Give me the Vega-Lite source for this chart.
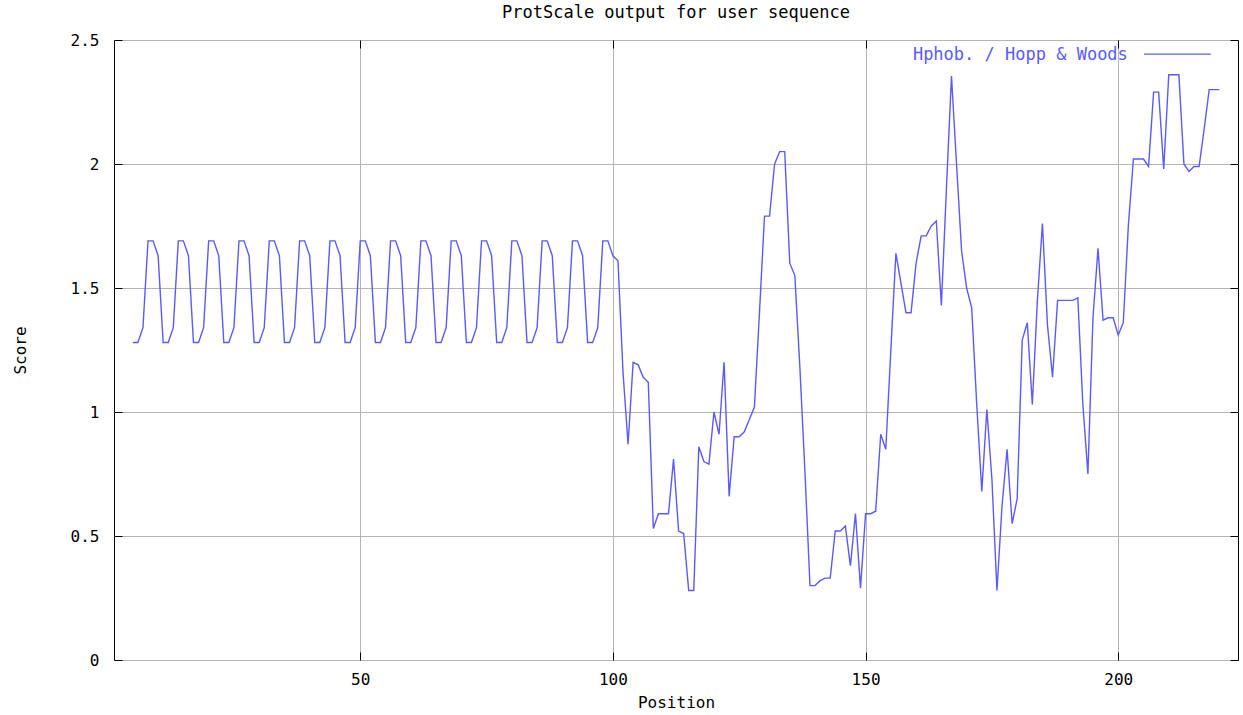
{
  "$schema": "https://vega.github.io/schema/vega-lite/v6.json",
  "width": 1124,
  "height": 620,
  "autosize": {"type": "none"},
  "padding": {"left": 114, "top": 40, "right": 5, "bottom": 55},
  "background": "white",
  "title": {
    "text": "ProtScale output for user sequence",
    "font": "DejaVu Sans Mono",
    "fontSize": 17,
    "fontWeight": "normal",
    "color": "#000000",
    "anchor": "middle",
    "frame": "group",
    "baseline": "alphabetic",
    "offset": -3
  },
  "config": {
    "view": {"stroke": "#000000", "strokeWidth": 1},
    "axis": {
      "domain": false,
      "gridColor": "#b4b4b4",
      "gridWidth": 1,
      "gridOpacity": 1,
      "tickColor": "#000000",
      "tickWidth": 1,
      "labelFont": "DejaVu Sans Mono",
      "labelFontSize": 16,
      "labelColor": "#000000",
      "titleFont": "DejaVu Sans Mono",
      "titleFontSize": 16,
      "titleFontWeight": "normal",
      "titleColor": "#000000"
    }
  },
  "data": {
    "values": [
      {"position": 5, "score": 1.28}, {"position": 6, "score": 1.28}, {"position": 7, "score": 1.34}, {"position": 8, "score": 1.69}, {"position": 9, "score": 1.69}, {"position": 10, "score": 1.63},
      {"position": 11, "score": 1.28}, {"position": 12, "score": 1.28}, {"position": 13, "score": 1.34}, {"position": 14, "score": 1.69}, {"position": 15, "score": 1.69}, {"position": 16, "score": 1.63},
      {"position": 17, "score": 1.28}, {"position": 18, "score": 1.28}, {"position": 19, "score": 1.34}, {"position": 20, "score": 1.69}, {"position": 21, "score": 1.69}, {"position": 22, "score": 1.63},
      {"position": 23, "score": 1.28}, {"position": 24, "score": 1.28}, {"position": 25, "score": 1.34}, {"position": 26, "score": 1.69}, {"position": 27, "score": 1.69}, {"position": 28, "score": 1.63},
      {"position": 29, "score": 1.28}, {"position": 30, "score": 1.28}, {"position": 31, "score": 1.34}, {"position": 32, "score": 1.69}, {"position": 33, "score": 1.69}, {"position": 34, "score": 1.63},
      {"position": 35, "score": 1.28}, {"position": 36, "score": 1.28}, {"position": 37, "score": 1.34}, {"position": 38, "score": 1.69}, {"position": 39, "score": 1.69}, {"position": 40, "score": 1.63},
      {"position": 41, "score": 1.28}, {"position": 42, "score": 1.28}, {"position": 43, "score": 1.34}, {"position": 44, "score": 1.69}, {"position": 45, "score": 1.69}, {"position": 46, "score": 1.63},
      {"position": 47, "score": 1.28}, {"position": 48, "score": 1.28}, {"position": 49, "score": 1.34}, {"position": 50, "score": 1.69}, {"position": 51, "score": 1.69}, {"position": 52, "score": 1.63},
      {"position": 53, "score": 1.28}, {"position": 54, "score": 1.28}, {"position": 55, "score": 1.34}, {"position": 56, "score": 1.69}, {"position": 57, "score": 1.69}, {"position": 58, "score": 1.63},
      {"position": 59, "score": 1.28}, {"position": 60, "score": 1.28}, {"position": 61, "score": 1.34}, {"position": 62, "score": 1.69}, {"position": 63, "score": 1.69}, {"position": 64, "score": 1.63},
      {"position": 65, "score": 1.28}, {"position": 66, "score": 1.28}, {"position": 67, "score": 1.34}, {"position": 68, "score": 1.69}, {"position": 69, "score": 1.69}, {"position": 70, "score": 1.63},
      {"position": 71, "score": 1.28}, {"position": 72, "score": 1.28}, {"position": 73, "score": 1.34}, {"position": 74, "score": 1.69}, {"position": 75, "score": 1.69}, {"position": 76, "score": 1.63},
      {"position": 77, "score": 1.28}, {"position": 78, "score": 1.28}, {"position": 79, "score": 1.34}, {"position": 80, "score": 1.69}, {"position": 81, "score": 1.69}, {"position": 82, "score": 1.63},
      {"position": 83, "score": 1.28}, {"position": 84, "score": 1.28}, {"position": 85, "score": 1.34}, {"position": 86, "score": 1.69}, {"position": 87, "score": 1.69}, {"position": 88, "score": 1.63},
      {"position": 89, "score": 1.28}, {"position": 90, "score": 1.28}, {"position": 91, "score": 1.34}, {"position": 92, "score": 1.69}, {"position": 93, "score": 1.69}, {"position": 94, "score": 1.63},
      {"position": 95, "score": 1.28}, {"position": 96, "score": 1.28}, {"position": 97, "score": 1.34}, {"position": 98, "score": 1.69}, {"position": 99, "score": 1.69}, {"position": 100, "score": 1.63},
      {"position": 101, "score": 1.61}, {"position": 102, "score": 1.16}, {"position": 103, "score": 0.87}, {"position": 104, "score": 1.20}, {"position": 105, "score": 1.19},
      {"position": 106, "score": 1.14}, {"position": 107, "score": 1.12}, {"position": 108, "score": 0.53}, {"position": 109, "score": 0.59}, {"position": 110, "score": 0.59},
      {"position": 111, "score": 0.59}, {"position": 112, "score": 0.81}, {"position": 113, "score": 0.52}, {"position": 114, "score": 0.51}, {"position": 115, "score": 0.28},
      {"position": 116, "score": 0.28}, {"position": 117, "score": 0.86}, {"position": 118, "score": 0.80}, {"position": 119, "score": 0.79}, {"position": 120, "score": 1.00},
      {"position": 121, "score": 0.91}, {"position": 122, "score": 1.20}, {"position": 123, "score": 0.66}, {"position": 124, "score": 0.90}, {"position": 125, "score": 0.90},
      {"position": 126, "score": 0.92}, {"position": 127, "score": 0.97}, {"position": 128, "score": 1.02}, {"position": 129, "score": 1.40}, {"position": 130, "score": 1.79},
      {"position": 131, "score": 1.79}, {"position": 132, "score": 2.00}, {"position": 133, "score": 2.05}, {"position": 134, "score": 2.05}, {"position": 135, "score": 1.60},
      {"position": 136, "score": 1.55}, {"position": 137, "score": 1.18}, {"position": 138, "score": 0.76}, {"position": 139, "score": 0.30}, {"position": 140, "score": 0.30},
      {"position": 141, "score": 0.32}, {"position": 142, "score": 0.33}, {"position": 143, "score": 0.33}, {"position": 144, "score": 0.52}, {"position": 145, "score": 0.52},
      {"position": 146, "score": 0.54}, {"position": 147, "score": 0.38}, {"position": 148, "score": 0.59}, {"position": 149, "score": 0.29}, {"position": 150, "score": 0.59},
      {"position": 151, "score": 0.59}, {"position": 152, "score": 0.60}, {"position": 153, "score": 0.91}, {"position": 154, "score": 0.85}, {"position": 155, "score": 1.25},
      {"position": 156, "score": 1.64}, {"position": 157, "score": 1.52}, {"position": 158, "score": 1.40}, {"position": 159, "score": 1.40}, {"position": 160, "score": 1.60},
      {"position": 161, "score": 1.71}, {"position": 162, "score": 1.71}, {"position": 163, "score": 1.75}, {"position": 164, "score": 1.77}, {"position": 165, "score": 1.43},
      {"position": 166, "score": 1.90}, {"position": 167, "score": 2.355}, {"position": 168, "score": 2.00}, {"position": 169, "score": 1.65}, {"position": 170, "score": 1.50},
      {"position": 171, "score": 1.42}, {"position": 172, "score": 1.03}, {"position": 173, "score": 0.68}, {"position": 174, "score": 1.01}, {"position": 175, "score": 0.73},
      {"position": 176, "score": 0.28}, {"position": 177, "score": 0.62}, {"position": 178, "score": 0.85}, {"position": 179, "score": 0.55}, {"position": 180, "score": 0.65},
      {"position": 181, "score": 1.29}, {"position": 182, "score": 1.36}, {"position": 183, "score": 1.03}, {"position": 184, "score": 1.45}, {"position": 185, "score": 1.76},
      {"position": 186, "score": 1.35}, {"position": 187, "score": 1.14}, {"position": 188, "score": 1.45}, {"position": 189, "score": 1.45}, {"position": 190, "score": 1.45},
      {"position": 191, "score": 1.45}, {"position": 192, "score": 1.46}, {"position": 193, "score": 1.03}, {"position": 194, "score": 0.75}, {"position": 195, "score": 1.38},
      {"position": 196, "score": 1.66}, {"position": 197, "score": 1.37}, {"position": 198, "score": 1.38}, {"position": 199, "score": 1.38}, {"position": 200, "score": 1.31},
      {"position": 201, "score": 1.36}, {"position": 202, "score": 1.75}, {"position": 203, "score": 2.02}, {"position": 204, "score": 2.02}, {"position": 205, "score": 2.02},
      {"position": 206, "score": 1.99}, {"position": 207, "score": 2.29}, {"position": 208, "score": 2.29}, {"position": 209, "score": 1.98}, {"position": 210, "score": 2.36},
      {"position": 211, "score": 2.36}, {"position": 212, "score": 2.36}, {"position": 213, "score": 2.00}, {"position": 214, "score": 1.97}, {"position": 215, "score": 1.99},
      {"position": 216, "score": 1.99}, {"position": 217, "score": 2.14}, {"position": 218, "score": 2.30}, {"position": 219, "score": 2.30}, {"position": 220, "score": 2.30}
    ]
  },
  "resolve": {"axis": {"x": "independent", "y": "independent"}},
  "layer": [
    {
      "mark": {"type": "line", "color": "#5a5aff", "strokeWidth": 1.4, "interpolate": "linear"},
      "encoding": {
        "x": {
          "field": "position",
          "type": "quantitative",
          "scale": {"domain": [1.27, 223.7], "nice": false, "zero": false},
          "axis": {
            "orient": "bottom",
            "values": [50, 100, 150, 200],
            "grid": true,
            "tickSize": -8,
            "labelPadding": 19,
            "labelBaseline": "top",
            "title": "Position",
            "titlePadding": 7
          }
        },
        "y": {
          "field": "score",
          "type": "quantitative",
          "scale": {"domain": [0, 2.5], "nice": false, "zero": true},
          "axis": {
            "orient": "left",
            "values": [0, 0.5, 1, 1.5, 2, 2.5],
            "format": "~g",
            "grid": true,
            "tickSize": -8,
            "labelPadding": 23,
            "title": "Score",
            "titlePadding": 42
          }
        }
      }
    },
    {
      "data": {"values": [{"label": "Hphob. / Hopp & Woods"}]},
      "mark": {"type": "text", "align": "right", "baseline": "middle", "font": "DejaVu Sans Mono", "fontSize": 17, "color": "#5a5aff"},
      "encoding": {
        "text": {"field": "label"},
        "x": {
          "datum": 201.9,
          "type": "quantitative",
          "axis": {"orient": "top", "values": [50, 100, 150, 200], "labels": false, "grid": false, "tickSize": -8, "title": null}
        },
        "y": {
          "datum": 2.44,
          "type": "quantitative",
          "axis": {"orient": "right", "values": [0, 0.5, 1, 1.5, 2, 2.5], "labels": false, "grid": false, "tickSize": -8, "title": null}
        }
      }
    },
    {
      "data": {"values": [{"label": "Hphob. / Hopp & Woods"}]},
      "mark": {"type": "rule", "color": "#5a5aff", "strokeWidth": 1.2},
      "encoding": {
        "x": {"datum": 205.1, "type": "quantitative", "axis": null},
        "x2": {"datum": 218.3},
        "y": {"datum": 2.443, "type": "quantitative", "axis": null}
      }
    }
  ]
}
